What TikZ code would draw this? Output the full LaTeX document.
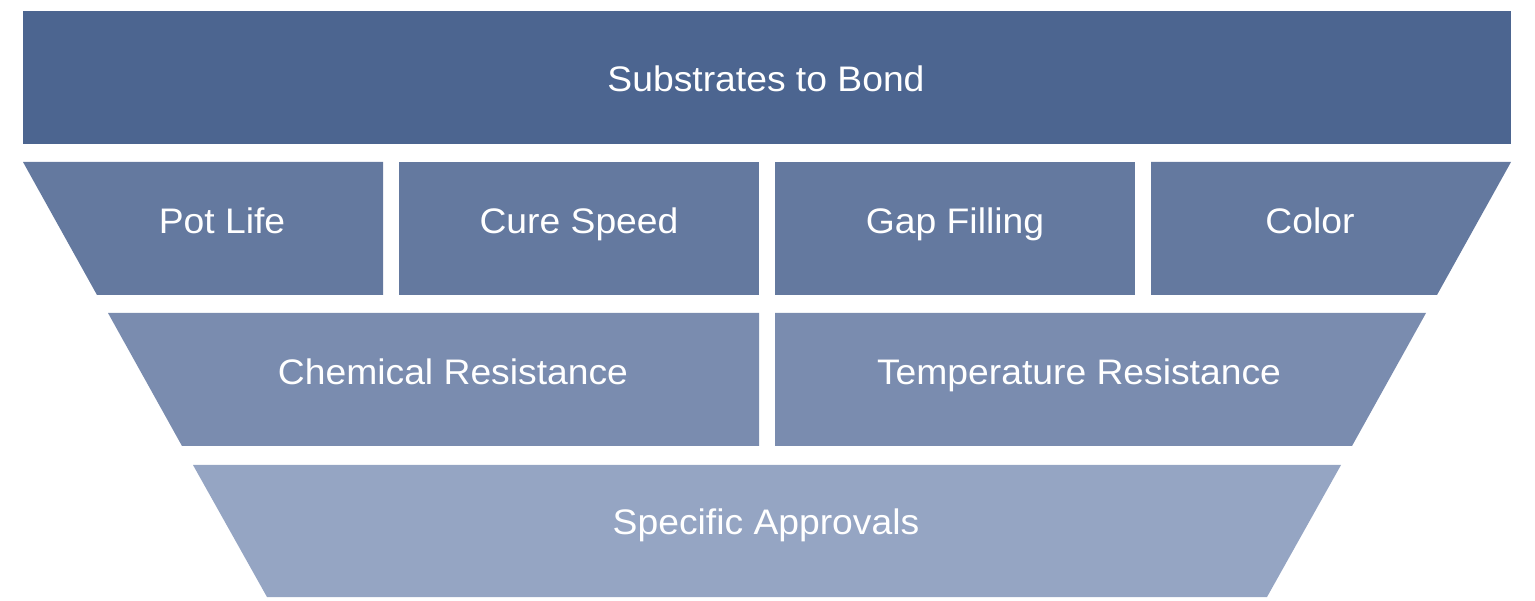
\documentclass[tikz,border=0pt]{standalone}
\usepackage{fontspec}
\setmainfont{Liberation Sans}[FakeStretch=1.05]
\definecolor{cA}{HTML}{4C6590}
\definecolor{cB}{HTML}{64799F}
\definecolor{cC}{HTML}{7A8CAF}
\definecolor{cD}{HTML}{95A5C3}
\tikzset{lbl/.style={text=white,font=\fontsize{35.5}{40}\selectfont,inner sep=0pt,anchor=base}}
\begin{document}
\begin{tikzpicture}[x=1pt,y=-1pt]
\useasboundingbox (0,0) rectangle (1535,601);
% row 1
\fill[cA] (23,11) rectangle (1511,144);
% row 2
\fill[cB] (23,162) -- (383,162) -- (383,295) -- (97,295) -- cycle;
\fill[cB] (399,162) rectangle (759,295);
\fill[cB] (775,162) rectangle (1135,295);
\fill[cB] (1151,162) -- (1511,162) -- (1437,295) -- (1151,295) -- cycle;
% row 3
\fill[cC] (108,313) -- (759,313) -- (759,446) -- (182,446) -- cycle;
\fill[cC] (775,313) -- (1426,313) -- (1352,446) -- (775,446) -- cycle;
% row 4
\fill[cD] (193,465) -- (1341,465) -- (1267,597) -- (267,597) -- cycle;
% labels
\node[lbl] (t1) at (766,92) {Substrates to Bond};
\node[lbl] (t2) at (222,233.5) {Pot Life};
\node[lbl] (t3) at (579,233.5) {Cure Speed};
\node[lbl] (t4) at (955,233.5) {Gap Filling};
\node[lbl] (t5) at (1310,233.5) {Color};
\node[lbl] (t6) at (453,384.5) {Chemical Resistance};
\node[lbl] (t7) at (1079,384.5) {Temperature Resistance};
\node[lbl] (t8) at (766,534.5) {Specific Approvals};
\end{tikzpicture}
\end{document}
